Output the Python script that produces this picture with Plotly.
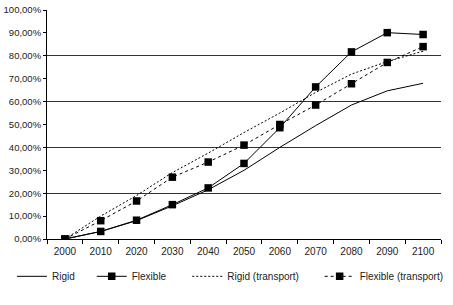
import plotly.graph_objects as go

years = ["2000", "2010", "2020", "2030", "2040", "2050", "2060", "2070", "2080", "2090", "2100"]
rigid = [0, 3.3, 8.0, 14.5, 21.5, 30.0, 40.0, 49.5, 58.5, 64.7, 68.0]
flexible = [0, 3.3, 8.2, 15.0, 22.3, 33.0, 48.6, 66.4, 81.7, 90.1, 89.3]
rigid_transport = [0, 10.0, 19.0, 29.0, 37.5, 46.5, 55.0, 64.0, 72.0, 77.5, 82.0]
flexible_transport = [0, 8.0, 16.6, 27.0, 33.6, 41.0, 50.0, 58.5, 67.8, 77.1, 84.0]

FONT = "Liberation Sans, Arial, sans-serif"
BLACK = "#000000"
TEXT = "#222222"

fig = go.Figure()
fig.add_trace(go.Scatter(x=years, y=rigid, name="Rigid", mode="lines",
                         line=dict(color=BLACK, width=1), legend="legend"))
fig.add_trace(go.Scatter(x=years, y=flexible, name="Flexible", mode="lines+markers",
                         line=dict(color=BLACK, width=1),
                         marker=dict(symbol="square", size=7.5, color=BLACK), legend="legend2"))
fig.add_trace(go.Scatter(x=years, y=rigid_transport, name="Rigid (transport)", mode="lines",
                         line=dict(color=BLACK, width=1, dash="2px,2px"), legend="legend3"))
fig.add_trace(go.Scatter(x=years, y=flexible_transport, name="Flexible (transport)", mode="lines+markers",
                         line=dict(color=BLACK, width=1, dash="3px,3px"),
                         marker=dict(symbol="square", size=7.5, color=BLACK), legend="legend4"))

# invisible trace to activate the grid axis
fig.add_trace(go.Scatter(x=years, y=[None] * len(years), yaxis="y2", showlegend=False, hoverinfo="skip"))

leg_common = dict(orientation="h", yanchor="middle", xanchor="left",
                  font=dict(family=FONT, size=10, color=TEXT),
                  bgcolor="rgba(0,0,0,0)", borderwidth=0, tracegroupgap=0, itemwidth=30)
LEG_Y = -0.163

fig.update_layout(
    width=453, height=305,
    margin=dict(l=41, r=4, t=6, b=66),
    paper_bgcolor="white", plot_bgcolor="white",
    separators=", ",
    font=dict(family=FONT, size=9, color=TEXT),
    xaxis=dict(type="category", tickson="boundaries", ticks="outside", ticklen=4,
               tickcolor=BLACK, showline=True, linecolor=BLACK, linewidth=1,
               showgrid=False, tickfont=dict(family=FONT, size=10, color=TEXT),
               ticklabelstandoff=3, range=[-0.5, 10.5], fixedrange=True),
    yaxis=dict(range=[0, 100], dtick=10, tickformat=".2f", ticksuffix="%",
               ticks="outside", ticklen=3, tickcolor=BLACK, showline=True,
               linecolor=BLACK, linewidth=1, showgrid=False, zeroline=False,
               tickfont=dict(family=FONT, size=9.5, color=TEXT)),
    yaxis2=dict(range=[0, 100], dtick=20, overlaying="y", showticklabels=False,
                showgrid=True, gridcolor="#333333", gridwidth=1, zeroline=False,
                showline=False, ticks=""),
    showlegend=True,
    legend=dict(x=-0.089, y=LEG_Y, **leg_common),
    legend2=dict(x=0.1135, y=LEG_Y, **leg_common),
    legend3=dict(x=0.356, y=LEG_Y, **leg_common),
    legend4=dict(x=0.692, y=LEG_Y, **leg_common),
)

fig.write_html("out.html")
